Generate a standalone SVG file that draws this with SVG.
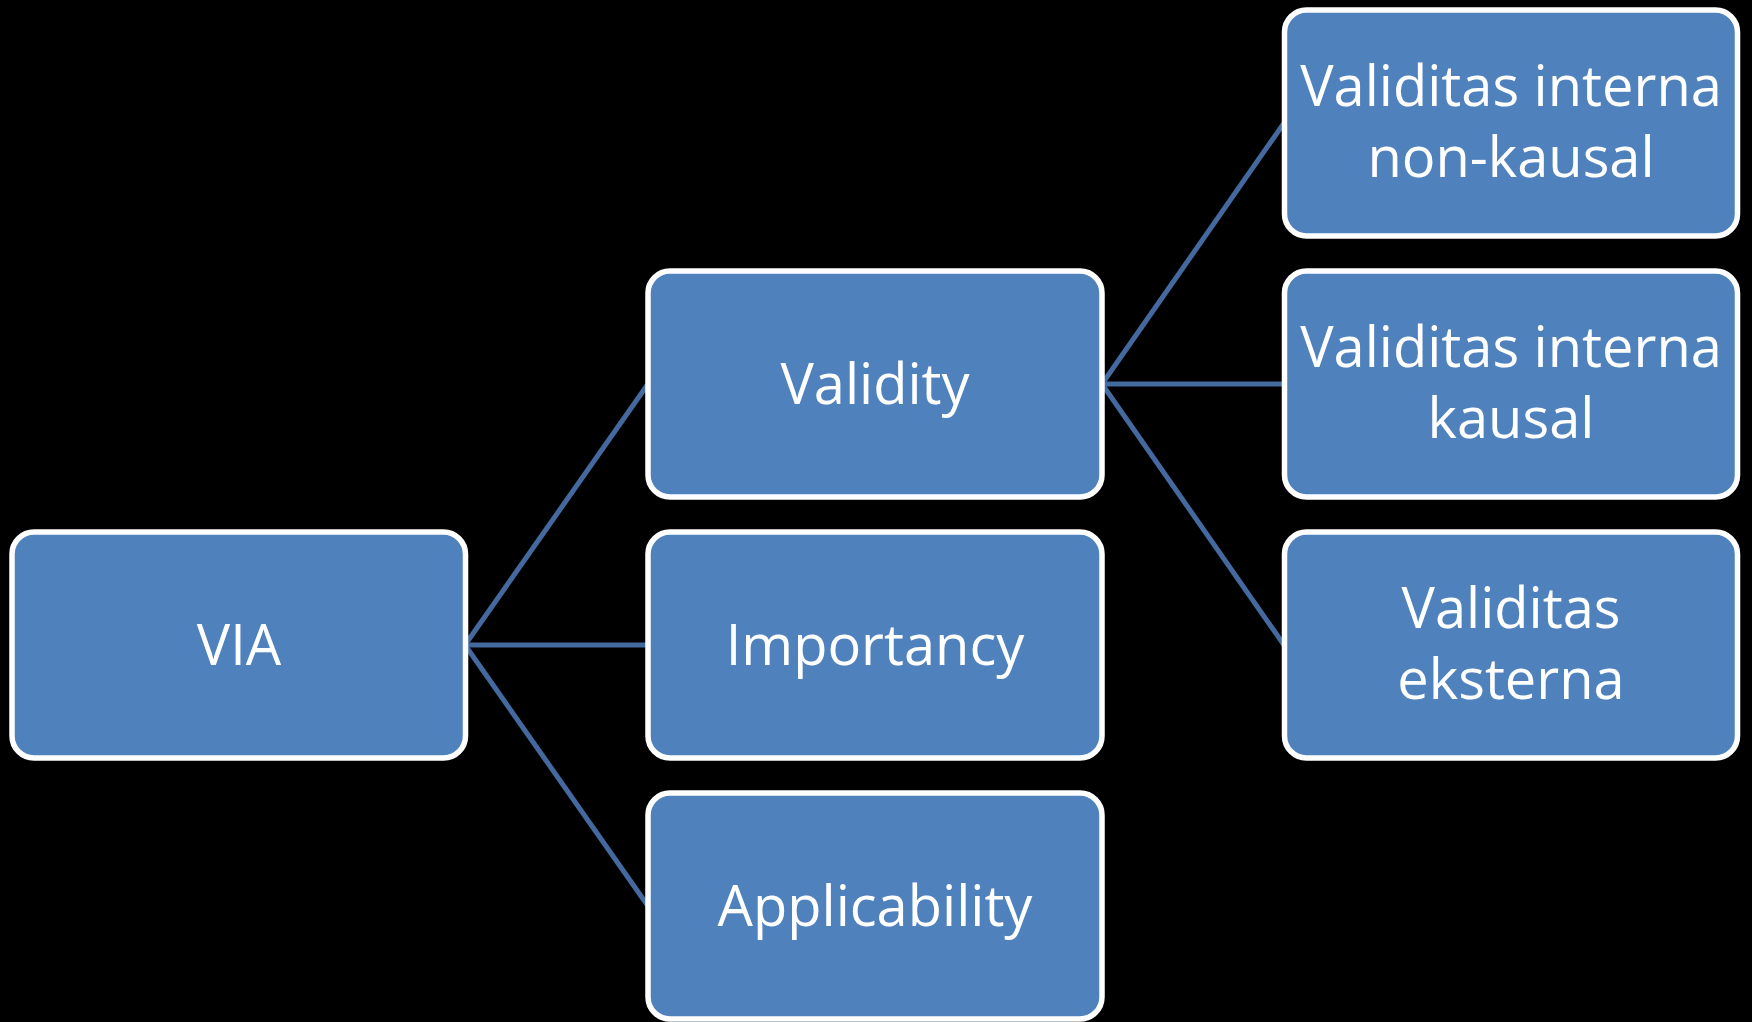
<svg xmlns="http://www.w3.org/2000/svg" width="1752" height="1022" viewBox="0 0 1752 1022">
  <style>
    .box { fill: #4F81BD; stroke: #FFFFFF; stroke-width: 5.5; }
    .lbl { fill: #FFFFFF; font-family: "Open Sans", "Liberation Sans", sans-serif; font-size: 56px; text-anchor: middle; }
    .link { stroke: #44699E; stroke-width: 5; fill: none; }
  </style>
  <rect x="0" y="0" width="1752" height="1022" fill="#000000"/>

  <g id="connectors">
    <line class="link" x1="465" y1="645" x2="648" y2="384"/>
    <line class="link" x1="465" y1="645" x2="648" y2="645"/>
    <line class="link" x1="465" y1="645" x2="648" y2="906"/>
    <line class="link" x1="1102" y1="384" x2="1284" y2="123"/>
    <line class="link" x1="1102" y1="384" x2="1284" y2="384"/>
    <line class="link" x1="1102" y1="384" x2="1284" y2="645"/>
  </g>

  <g id="via">
    <rect class="box" x="12" y="532" width="453.5" height="226" rx="22"/>
    <text class="lbl" x="239" y="665">VIA</text>
  </g>
  <g id="validity">
    <rect class="box" x="648" y="271" width="454" height="226" rx="22"/>
    <text class="lbl" x="875" y="404">Validity</text>
  </g>
  <g id="importancy">
    <rect class="box" x="648" y="532" width="454" height="226" rx="22"/>
    <text class="lbl" x="875" y="665">Importancy</text>
  </g>
  <g id="applicability">
    <rect class="box" x="648" y="793" width="454" height="226" rx="22"/>
    <text class="lbl" x="875" y="926">Applicability</text>
  </g>
  <g id="vi-non-kausal">
    <rect class="box" x="1284.5" y="10" width="453" height="226" rx="22"/>
    <text class="lbl" x="1511" y="106">Validitas interna</text>
    <text class="lbl" x="1511" y="177">non-kausal</text>
  </g>
  <g id="vi-kausal">
    <rect class="box" x="1284.5" y="271" width="453" height="226" rx="22"/>
    <text class="lbl" x="1511" y="367">Validitas interna</text>
    <text class="lbl" x="1511" y="438">kausal</text>
  </g>
  <g id="v-eksterna">
    <rect class="box" x="1284.5" y="532" width="453" height="226" rx="22"/>
    <text class="lbl" x="1511" y="628">Validitas</text>
    <text class="lbl" x="1511" y="699">eksterna</text>
  </g>
</svg>
